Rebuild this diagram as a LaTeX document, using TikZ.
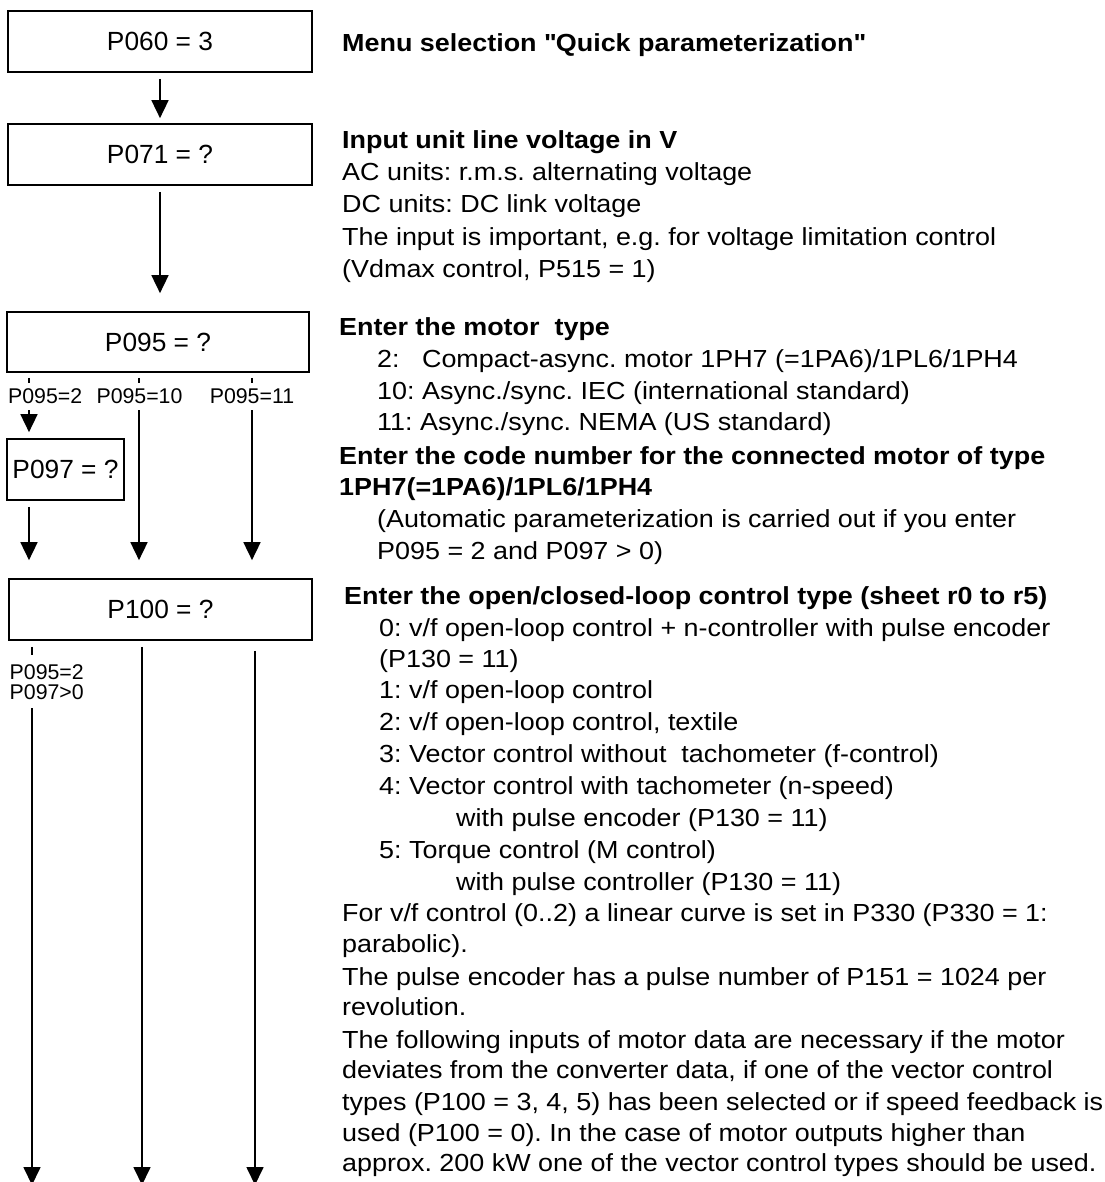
\documentclass[tikz,border=0pt]{standalone}
\usepackage{fontspec}
\setmainfont{Liberation Sans}[FakeStretch=1.09]
\newfontfamily\boxfont{Liberation Sans}
\usetikzlibrary{arrows.meta}
\frenchspacing
\newcommand\qdbl{\XeTeXglyph\XeTeXcharglyph"22\relax}

\begin{document}
\begin{tikzpicture}[x=1pt, y=-1pt,
    pbox/.style={draw, line width=1.7pt, minimum height=61pt, inner sep=0pt, font=\boxfont\fontsize{26.3}{30}\selectfont},
    arr/.style={-{Triangle[width=17pt,length=18pt]}, line width=1.7pt},
    cond/.style={fill=white, inner xsep=2pt, inner ysep=6pt, font=\boxfont\fontsize{21.3}{20}\selectfont},
    txt/.style={anchor=base west, inner sep=0pt, font=\fontsize{24.7}{31.7}\selectfont},
    head/.style={txt, font=\bfseries\fontsize{24.7}{31.7}\selectfont}]
    \useasboundingbox (0,0) rectangle (1104,1182);
    \node[pbox, minimum width=304pt] (p060) at (160,41.5) {P060 = 3};
    \node[pbox, minimum width=304pt] (p071) at (160,154.5) {P071 = ?};
    \node[pbox, minimum width=302pt, minimum height=60pt] (p095) at (158,342) {P095 = ?};
    \node[pbox, minimum width=117pt] (p097) at (65.5,469.5) {P097 = ?};
    \node[pbox, minimum width=303pt] (p100) at (160.5,609.5) {P100 = ?};
    \coordinate (c2) at (29,0);
    \coordinate (c10) at (139,0);
    \coordinate (c11) at (252,0);
    \coordinate (d2) at (32,0);
    \coordinate (d10) at (142,0);
    \coordinate (d11) at (255,0);
    \coordinate (bottom) at (0,1185);
    \draw[arr, shorten <=6pt, shorten >=5pt] (p060) -- (p071);
    \draw[arr, shorten <=6pt, shorten >=18pt] (p071) -- (p071 |- p095.north);
    \draw[arr, shorten <=5pt, shorten >=6pt] (p095.south -| c2) -- (p097.north -| c2);
    \draw[arr, shorten <=5pt, shorten >=18pt] (p095.south -| c10) -- (p100.north -| c10);
    \draw[arr, shorten <=5pt, shorten >=18pt] (p095.south -| c11) -- (p100.north -| c11);
    \draw[arr, shorten <=6pt, shorten >=18pt] (p097.south -| c2) -- (p100.north -| c2);
    \draw[arr, shorten <=6pt] (p100.south -| d2) -- (bottom -| d2);
    \draw[arr, shorten <=6pt] (p100.south -| d10) -- (bottom -| d10);
    \draw[arr, shorten <=10pt] (p100.south -| d11) -- (bottom -| d11);
    \node[cond, anchor=west, text height=15pt, text depth=0pt] (q2) at (6,396) {P095=2};
    \node[cond, text height=15pt, text depth=0pt] (q10) at (139.5,396) {P095=10};
    \node[cond, text height=15pt, text depth=0pt] (q11) at (252,396) {P095=11};
    \node[cond, align=left, anchor=north west, inner ysep=9pt] (q2b) at (7.5,655) {P095=2\\P097>0};
    \node[head] (m1) at (342,52) {Menu selection \qdbl Quick parameterization\qdbl};
    \node[head] (m2) at (342,149) {Input unit line voltage in V};
    \node[txt] (m2a) at (342,181) {AC units: r.m.s. alternating voltage};
    \node[txt] (m2b) at (342,213) {DC units: DC link voltage};
    \node[txt] (m2c) at (342,245) {The input is important, e.g. for voltage limitation control};
    \node[txt] (m2d) at (342,277) {(Vdmax control, P515 = 1)};
    \node[head] (m3) at (339,335) {Enter the motor\ \ type};
    \node[txt] (m3a) at (377,367.7) {2:\hphantom{0} Compact-async. motor 1PH7 (=1PA6)/1PL6/1PH4};
    \node[txt] (m3b) at (377,399.5) {10: Async./sync. IEC (international standard)};
    \node[txt] (m3c) at (377,430.5) {11: Async./sync. NEMA (US standard)};
    \node[head] (m4) at (339,464) {Enter the code number for the connected motor of type};
    \node[head] (m4a) at (339,495) {1PH7(=1PA6)/1PL6/1PH4};
    \node[txt] (m4b) at (377,527.7) {(Automatic parameterization is carried out if you enter};
    \node[txt] (m4c) at (377,559.3) {P095 = 2 and P097 > 0)};
    \node[head] (m5) at (344,604) {Enter the open/closed-loop control type (sheet r0 to r5)};
    \node[txt] (m5a) at (379,636) {0: v/f open-loop control + n-controller with pulse encoder};
    \node[txt] (m5b) at (379,667) {(P130 = 11)};
    \node[txt] (m5c) at (379,698) {1: v/f open-loop control};
    \node[txt] (m5d) at (379,730.7) {2: v/f open-loop control, textile};
    \node[txt] (m5e) at (379,762.7) {3: Vector control without\ \ tachometer (f-control)};
    \node[txt] (m5f) at (379,794) {4: Vector control with tachometer (n-speed)};
    \node[txt] (m5g) at (456,826.7) {with pulse encoder (P130 = 11)};
    \node[txt] (m5h) at (379,858.3) {5: Torque control (M control)};
    \node[txt] (m5i) at (456,890.7) {with pulse controller (P130 = 11)};
    \node[txt] (m6) at (342,921.7) {For v/f control (0..2) a linear curve is set in P330 (P330 = 1:};
    \node[txt] (m6a) at (342,952) {parabolic).};
    \node[txt] (m7) at (342,985) {The pulse encoder has a pulse number of P151 = 1024 per};
    \node[txt] (m7a) at (342,1015) {revolution.};
    \node[txt] (m8) at (342,1048.3) {The following inputs of motor data are necessary if the motor};
    \node[txt] (m8a) at (342,1078.3) {deviates from the converter data, if one of the vector control};
    \node[txt] (m8b) at (342,1110) {types (P100 = 3, 4, 5) has been selected or if speed feedback is};
    \node[txt] (m8c) at (342,1141.7) {used (P100 = 0). In the case of motor outputs higher than};
    \node[txt] (m8d) at (342,1171.7) {approx. 200 kW one of the vector control types should be used.};
\end{tikzpicture}
\end{document}
